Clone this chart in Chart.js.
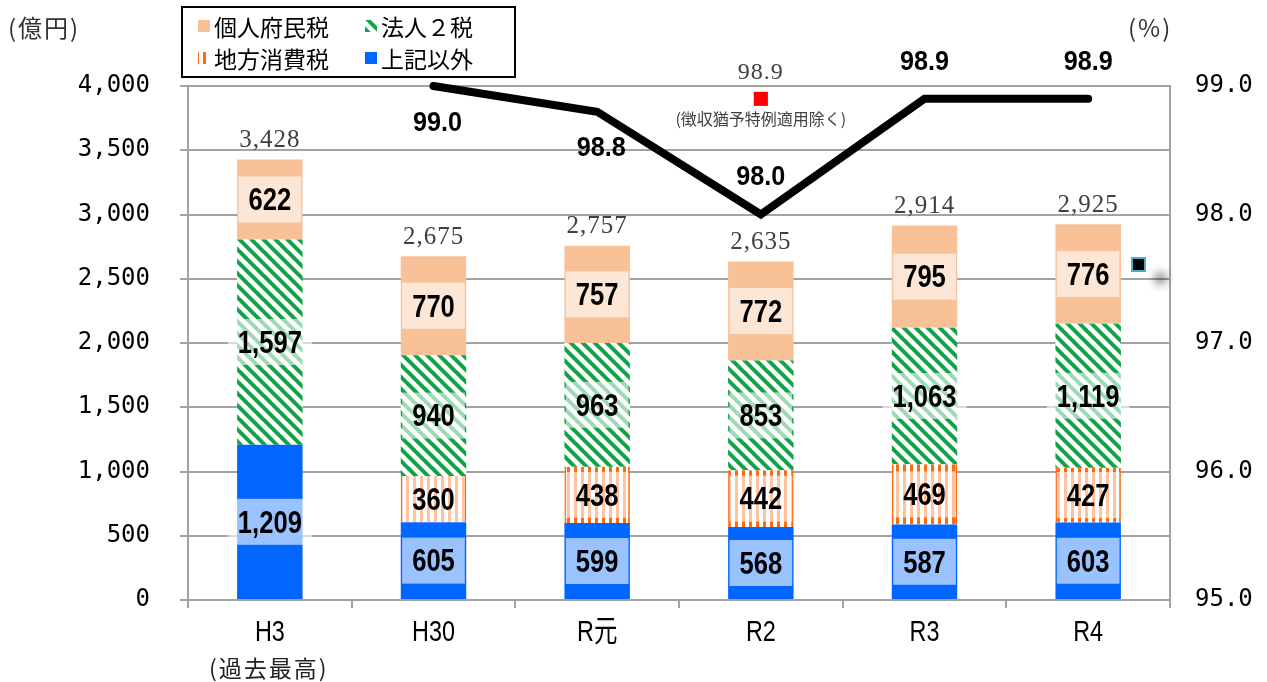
<!DOCTYPE html>
<html>
<head>
<meta charset="utf-8">
<script src="https://cdn.jsdelivr.net/npm/chart.js@4.4.1/dist/chart.umd.min.js"></script>
<style>
  html, body { margin: 0; padding: 0; background: #fff; }
  #wrap { width: 1267px; height: 682px; }
</style>
</head>
<body>
<div id="wrap"><canvas id="c" width="1267" height="682"></canvas></div>
<script>
// 年度区分
const categories = ['H3', 'H30', 'R元', 'R2', 'R3', 'R4'];
const categoryNotes = ['(過去最高)', '', '', '', '', ''];

// 税目別の税収額（億円）
const otherTaxes = [1209, 605, 599, 568, 587, 603];          // 上記以外
const localConsumptionTax = [null, 360, 438, 442, 469, 427]; // 地方消費税
const corporateTaxes = [1597, 940, 963, 853, 1063, 1119];    // 法人２税
const residentTax = [622, 770, 757, 772, 795, 776];          // 個人府民税

// 徴収率（%）
const collectionRate = [null, 99.0, 98.8, 98.0, 98.9, 98.9];
const collectionRateExDeferral = [null, null, null, 98.9, null, null];
const exDeferralNote = '(徴収猶予特例適用除く)';

// 目盛
const amountTicks = { min: 0, max: 4000, step: 500 };
const rateTicks = { min: 95, max: 99, step: 1 };

const SANS = "'Liberation Sans', Arial, 'Noto Sans CJK JP', sans-serif";
const MONO = "'DejaVu Sans Mono', monospace";
const SERIF = "'Liberation Serif', 'DejaVu Serif', serif";
const CJK = "'Noto Sans CJK JP', sans-serif";

const COLORS = {
  peach: '#F8C198',
  green: '#16A04A',
  orange: '#FF6A10',
  blue: '#0066FF',
  grid: '#A3A3A3'
};

function makePattern(size, draw) {
  const c = document.createElement('canvas');
  c.width = size; c.height = size;
  const g = c.getContext('2d');
  g.fillStyle = '#fff';
  g.fillRect(0, 0, size, size);
  draw(g, size);
  return document.getElementById('c').getContext('2d').createPattern(c, 'repeat');
}

const greenStripes = makePattern(12, (g, s) => {
  g.strokeStyle = COLORS.green;
  g.lineWidth = 4;
  g.lineCap = 'square';
  for (const off of [-s, 0, s]) {
    g.beginPath();
    g.moveTo(off, 0);
    g.lineTo(off + s, s);
    g.stroke();
  }
});

const orangeStripes = makePattern(7, (g, s) => {
  g.fillStyle = COLORS.orange;
  g.fillRect(0, 0, 3, s);
});

function fmt(v) {
  return v.toLocaleString('en-US');
}

// 横方向に詰めた文字（狭幅書体の代わり）
function narrowText(ctx, text, x, y, sx) {
  ctx.save();
  ctx.translate(x, y);
  ctx.scale(sx, 1);
  ctx.fillText(text, 0, 0);
  ctx.restore();
}

const totals = categories.map((_, i) =>
  [otherTaxes, localConsumptionTax, corporateTaxes, residentTax]
    .reduce((s, arr) => s + (arr[i] || 0), 0));

const barCommon = {
  type: 'bar',
  yAxisID: 'y',
  order: 2,
  barPercentage: 0.4,
  categoryPercentage: 1.0,
  borderSkipped: false
};

const data = {
  labels: categories,
  datasets: [
    { ...barCommon, label: '上記以外', data: otherTaxes, backgroundColor: COLORS.blue, borderWidth: 0, legendFill: COLORS.blue },
    { ...barCommon, label: '地方消費税', data: localConsumptionTax, backgroundColor: orangeStripes,
      borderColor: COLORS.orange, borderWidth: { left: 2, right: 2, top: 0, bottom: 0 }, legendFill: orangeStripes },
    { ...barCommon, label: '法人２税', data: corporateTaxes, backgroundColor: greenStripes, borderWidth: 0, legendFill: greenStripes },
    { ...barCommon, label: '個人府民税', data: residentTax, backgroundColor: COLORS.peach, borderWidth: 0, legendFill: COLORS.peach },
    { type: 'line', label: '徴収率', data: collectionRate, yAxisID: 'y1', order: 0,
      borderColor: '#000', borderWidth: 8, borderCapStyle: 'round', borderJoinStyle: 'miter',
      pointRadius: 0, clip: false, spanGaps: false, tension: 0 },
    { type: 'line', label: '徴収率（徴収猶予特例適用除く）', data: collectionRateExDeferral, yAxisID: 'y1', order: 0,
      showLine: false, pointStyle: 'rect', pointRadius: 10, pointBackgroundColor: '#FF0000',
      pointBorderWidth: 0, clip: false }
  ]
};

// 積み上げ棒の内訳ラベル・合計ラベル・徴収率ラベル
const labelsPlugin = {
  id: 'valueLabels',
  afterDatasetsDraw(chart) {
    const ctx = chart.ctx;
    ctx.save();
    ctx.textAlign = 'center';
    ctx.textBaseline = 'middle';

    const topBars = [];
    chart.data.datasets.forEach((ds, i) => {
      if (ds.type !== 'bar') return;
      const meta = chart.getDatasetMeta(i);
      meta.data.forEach((el, j) => {
        const v = ds.data[j];
        if (v == null) return;
        const p = el.getProps(['x', 'y', 'base'], true);
        if (!topBars[j] || p.y < topBars[j].y) topBars[j] = p;
        const cy = (p.y + p.base) / 2;
        const text = fmt(v);
        ctx.font = `bold 32px ${SANS}`;
        const w = ctx.measureText(text).width * 0.8 + 20;
        ctx.fillStyle = 'rgba(255,255,255,0.6)';
        ctx.fillRect(p.x - w / 2, cy - 23, w, 46);
        ctx.fillStyle = '#000';
        narrowText(ctx, text, p.x, cy + 2, 0.8);
      });
    });

    // 合計
    ctx.font = `25px ${SERIF}`;
    ctx.letterSpacing = '1px';
    ctx.fillStyle = '#404040';
    topBars.forEach((p, j) => {
      if (!p) return;
      ctx.fillText(fmt(totals[j]), p.x, p.y - 19);
    });
    ctx.letterSpacing = '0px';

    // 徴収率
    const lineIdx = chart.data.datasets.findIndex(d => d.data === collectionRate);
    const lineMeta = chart.getDatasetMeta(lineIdx);
    ctx.font = `bold 28px ${SANS}`;
    ctx.fillStyle = '#000';
    lineMeta.data.forEach((pt, j) => {
      const v = collectionRate[j];
      if (v == null) return;
      const next = collectionRate[j + 1];
      const below = next != null && v > next;
      narrowText(ctx, v.toFixed(1), pt.x + (below ? 4 : 0), pt.y + (below ? 37 : -37), 0.9);
    });

    // 徴収猶予特例適用除く
    const exIdx = chart.data.datasets.findIndex(d => d.data === collectionRateExDeferral);
    const exMeta = chart.getDatasetMeta(exIdx);
    exMeta.data.forEach((pt, j) => {
      const v = collectionRateExDeferral[j];
      if (v == null) return;
      ctx.font = `24px ${SERIF}`;
      ctx.letterSpacing = '1px';
      ctx.fillStyle = '#404040';
      ctx.fillText(v.toFixed(1), pt.x, pt.y - 26);
      ctx.letterSpacing = '0px';
      ctx.font = `16px ${CJK}`;
      ctx.fillText(exDeferralNote, pt.x, pt.y + 20);
    });
    ctx.restore();
  },
  afterDraw(chart) {
    const ctx = chart.ctx;
    const xs = chart.scales.x;
    const ys = chart.scales.y;
    ctx.save();

    // 左軸の目盛（軸線をまたぐ短い線）
    ctx.strokeStyle = COLORS.grid;
    ctx.lineWidth = 2;
    ys.ticks.forEach(t => {
      const y = Math.round(ys.getPixelForValue(t.value));
      ctx.beginPath();
      ctx.moveTo(ys.right, y);
      ctx.lineTo(ys.right + 6, y);
      ctx.stroke();
    });

    // 単位
    ctx.font = `24px ${CJK}`;
    ctx.fillStyle = '#333';
    ctx.textBaseline = 'middle';
    ctx.textAlign = 'left';
    ctx.letterSpacing = '2px';
    ctx.fillText('(億円)', 8, 28);
    ctx.fillText('(%)', 1128, 28);

    // 年度
    ctx.textAlign = 'center';
    ctx.letterSpacing = '0px';
    ctx.font = `30px ${SANS}`;
    ctx.fillStyle = '#000';
    categories.forEach((t, i) => {
      narrowText(ctx, t, xs.getPixelForValue(i), 633, 0.78);
    });
    ctx.font = `23px ${CJK}`;
    ctx.letterSpacing = '2px';
    ctx.fillStyle = '#222';
    categoryNotes.forEach((t, i) => {
      if (t) ctx.fillText(t, xs.getPixelForValue(i) - 1, 668);
    });
    ctx.letterSpacing = '0px';

    // 凡例
    ctx.fillStyle = '#fff';
    ctx.fillRect(182, 7, 333, 70);
    ctx.strokeStyle = '#000';
    ctx.lineWidth = 2;
    ctx.strokeRect(182, 7, 333, 70);
    const bars = chart.data.datasets.filter(d => d.type === 'bar').slice().reverse();
    const cols = [198, 365];
    const rows = [26, 58];
    ctx.font = `23px ${CJK}`;
    ctx.textAlign = 'left';
    bars.forEach((ds, k) => {
      const x = cols[k % 2], y = rows[Math.floor(k / 2)];
      ctx.fillStyle = ds.legendFill;
      ctx.fillRect(x, y - 6, 12, 12);
      ctx.fillStyle = '#000';
      ctx.fillText(ds.label, x + 16, y + 1);
    });

    // 系列マーカー
    ctx.shadowColor = 'rgba(0,0,0,0.45)';
    ctx.shadowBlur = 8;
    ctx.shadowOffsetX = 22;
    ctx.shadowOffsetY = 14;
    ctx.fillStyle = '#000';
    ctx.fillRect(1133, 259, 11, 11);
    ctx.shadowColor = 'transparent';
    ctx.strokeStyle = '#4BACC6';
    ctx.lineWidth = 2;
    ctx.strokeRect(1132, 258, 13, 13);
    ctx.restore();
  }
};

new Chart(document.getElementById('c'), {
  data,
  plugins: [labelsPlugin],
  options: {
    responsive: false,
    animation: false,
    events: [],
    layout: { padding: { top: 86, left: 0, right: 0, bottom: 0 } },
    plugins: {
      legend: { display: false },
      tooltip: { enabled: false },
      title: { display: false }
    },
    scales: {
      x: {
        stacked: true,
        afterFit(s) { s.height = 82; },
        grid: { display: true, drawOnChartArea: false, drawTicks: true, tickLength: 8, color: COLORS.grid, lineWidth: 2, offset: true },
        border: { display: true, color: COLORS.grid, width: 2 },
        ticks: { display: false }
      },
      y: {
        stacked: true,
        position: 'left',
        min: amountTicks.min,
        max: amountTicks.max,
        afterFit(s) { s.width = 188; },
        grid: { color: COLORS.grid, lineWidth: 2, tickLength: 8 },
        border: { display: true, color: COLORS.grid, width: 2 },
        ticks: { stepSize: amountTicks.step, color: '#000', padding: 30,
          font: { family: MONO, size: 24 }, callback: v => fmt(v) }
      },
      y1: {
        position: 'right',
        min: rateTicks.min,
        max: rateTicks.max,
        afterFit(s) { s.width = 97; },
        grid: { drawOnChartArea: false, drawTicks: false },
        border: { display: true, color: COLORS.grid, width: 2 },
        ticks: { stepSize: rateTicks.step, color: '#000', padding: 25,
          font: { family: MONO, size: 24 }, callback: v => Number(v).toFixed(1) }
      }
    }
  }
});
</script>
</body>
</html>
